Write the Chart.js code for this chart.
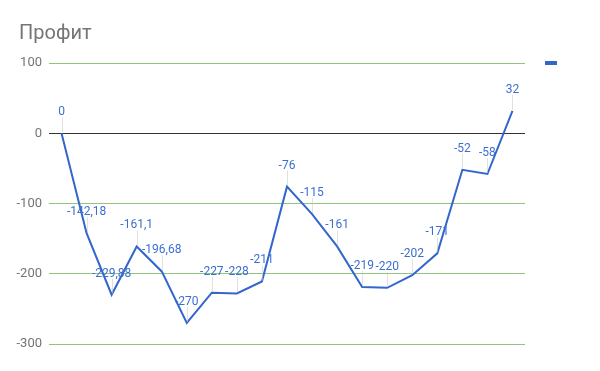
<!DOCTYPE html>
<html>
<head>
<meta charset="utf-8">
<script src="https://cdn.jsdelivr.net/npm/chart.js@4"></script>
<style>
html,body{margin:0;padding:0;background:#fff;}
#wrap{width:600px;height:371px;position:relative;}
</style>
</head>
<body>
<div id="wrap"><canvas id="c" width="600" height="371"></canvas></div>
<script>
const chartTitle = 'Профит';
const categories = ['1','2','3','4','5','6','7','8','9','10','11','12','13','14','15','16','17','18','19'];
const profit = [0, -142.18, -229.88, -161.1, -196.68, -270, -227, -228, -211, -76, -115, -161, -219, -220, -202, -171, -52, -58, 32];
const yTicks = [100, 0, -100, -200, -300];
const seriesName = '';

const FONT = 'Roboto, "Noto Sans", Arial, sans-serif';
const LINE = '#3366cc';

const overlay = {
  id: 'overlay',
  afterDatasetsDraw(chart) {
    const ctx = chart.ctx;
    const meta = chart.getDatasetMeta(0);
    ctx.save();
    // data labels with stems
    ctx.font = '12px ' + FONT;
    ctx.textAlign = 'center';
    ctx.textBaseline = 'alphabetic';
    meta.data.forEach((pt, i) => {
      const v = profit[i];
      const txt = String(v).replace('.', ',');
      ctx.strokeStyle = 'rgba(200,200,200,0.55)';
      ctx.lineWidth = 1;
      ctx.beginPath();
      ctx.moveTo(Math.round(pt.x) + 0.5, pt.y - 1);
      ctx.lineTo(Math.round(pt.x) + 0.5, pt.y - 16);
      ctx.stroke();
      ctx.fillStyle = '#3d6fd0';
      ctx.fillText(txt, pt.x, pt.y - 18);
    });
    ctx.restore();
  },
  afterDraw(chart) {
    const ctx = chart.ctx;
    ctx.save();
    ctx.font = '20px ' + FONT;
    ctx.fillStyle = '#757575';
    ctx.textAlign = 'left';
    ctx.textBaseline = 'alphabetic';
    ctx.fillText(chartTitle, 19, 39);
    // legend marker
    ctx.fillStyle = LINE;
    ctx.fillRect(545, 61, 12, 4);
    ctx.font = '13px ' + FONT;
    ctx.fillStyle = '#222';
    ctx.fillText(seriesName, 562, 67);
    ctx.restore();
  }
};

new Chart(document.getElementById('c'), {
  type: 'line',
  data: {
    labels: categories,
    datasets: [{
      label: seriesName,
      data: profit,
      borderColor: LINE,
      backgroundColor: LINE,
      borderWidth: 2,
      pointRadius: 0,
      pointHoverRadius: 0,
      tension: 0,
      fill: false
    }]
  },
  options: {
    responsive: false,
    animation: false,
    devicePixelRatio: 1,
    layout: { padding: { left: 0, right: 75, top: 63, bottom: 27 } },
    plugins: {
      legend: { display: false },
      title: { display: false },
      tooltip: { enabled: false }
    },
    scales: {
      x: {
        type: 'category',
        offset: true,
        display: false,
        grid: { display: false }
      },
      y: {
        min: -300,
        max: 100,
        afterFit(scale) { scale.width = 49; },
        afterBuildTicks(scale) { scale.ticks = yTicks.map(v => ({ value: v })); },
        border: { display: false },
        grid: {
          drawTicks: false,
          color: ctx => ctx.tick && ctx.tick.value === 0 ? '#333333' : '#93c47d',
          lineWidth: 1
        },
        ticks: {
          padding: 7,
          color: '#757575',
          font: { family: FONT, size: 13 },
          callback: v => String(v)
        }
      }
    }
  },
  plugins: [overlay]
});
</script>
</body>
</html>
